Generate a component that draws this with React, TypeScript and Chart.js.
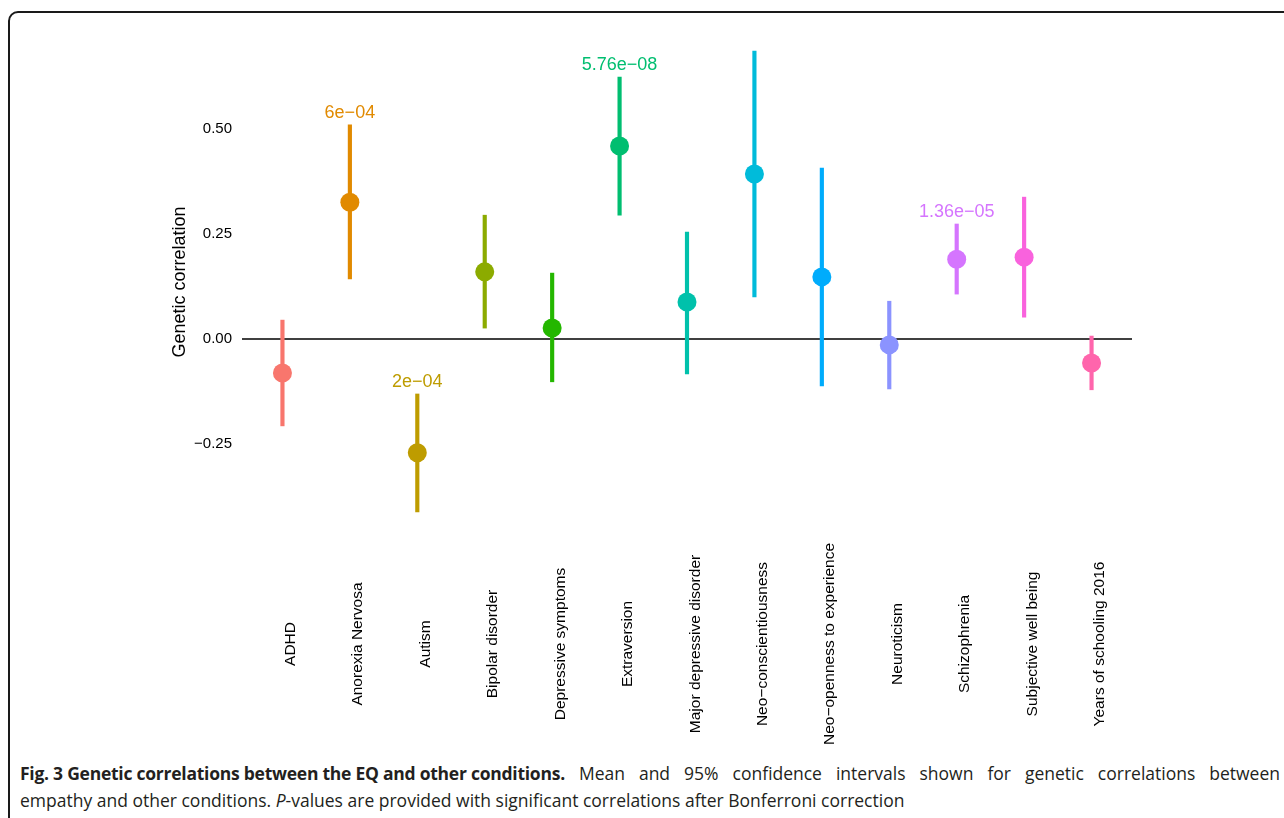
import React, { useEffect, useRef } from "react";
import { Chart, registerables } from "chart.js";

Chart.register(...registerables);

const categories = [
  "ADHD",
  "Anorexia Nervosa",
  "Autism",
  "Bipolar disorder",
  "Depressive symptoms",
  "Extraversion",
  "Major depressive disorder",
  "Neo\u2212conscientiousness",
  "Neo\u2212openness to experience",
  "Neuroticism",
  "Schizophrenia",
  "Subjective well being",
  "Years of schooling 2016",
];
const means = [-0.081, 0.326, -0.271, 0.16, 0.026, 0.46, 0.088, 0.393, 0.148, -0.014, 0.19, 0.195, -0.057];
const lowers = [-0.207, 0.143, -0.412, 0.026, -0.102, 0.295, -0.083, 0.1, -0.112, -0.119, 0.107, 0.052, -0.121];
const uppers = [0.045, 0.51, -0.131, 0.295, 0.157, 0.624, 0.255, 0.686, 0.407, 0.09, 0.274, 0.338, 0.007];
const pLabels = ["", "6e\u221204", "2e\u221204", "", "", "5.76e\u221208", "", "", "", "", "1.36e\u221205", "", ""];
const colors = [
  "#F8766D", "#E18A00", "#BE9C00", "#8CAB00", "#24B700", "#00BE70", "#00C1AB",
  "#00BBDA", "#00ACFC", "#8B93FF", "#D575FE", "#F962DD", "#FF65AC",
];
const yTicks = [-0.25, 0, 0.25, 0.5];
const yTitle = "Genetic correlation";

const FONT = "'Liberation Sans', Arial, Helvetica, sans-serif";

const decorPlugin = {
  id: "decor",
  beforeDatasetsDraw(chart: any) {
    const { ctx, chartArea, scales } = chart;
    const y0 = scales.y.getPixelForValue(0);
    ctx.save();
    ctx.strokeStyle = "#000";
    ctx.lineWidth = 1.5;
    ctx.beginPath();
    ctx.moveTo(chartArea.left, y0);
    ctx.lineTo(chartArea.right, y0);
    ctx.stroke();
    ctx.restore();
  },
  afterDatasetsDraw(chart: any) {
    const { ctx, scales } = chart;
    const xs = scales.x;
    const ys = scales.y;
    ctx.save();
    // p-value labels
    ctx.font = `18px ${FONT}`;
    ctx.textAlign = "center";
    ctx.textBaseline = "alphabetic";
    pLabels.forEach((t, i) => {
      if (!t) return;
      ctx.fillStyle = colors[i];
      ctx.fillText(t, xs.getPixelForValue(i), ys.getPixelForValue(uppers[i]) - 7);
    });
    // category labels, rotated and centered
    ctx.fillStyle = "#000";
    ctx.font = `15.5px ${FONT}`;
    ctx.textAlign = "center";
    ctx.textBaseline = "alphabetic";
    categories.forEach((c, i) => {
      const x = xs.getPixelForValue(i);
      ctx.save();
      ctx.translate(x + 12.5, 644);
      ctx.rotate(-Math.PI / 2);
      ctx.fillText(c, 0, 0);
      ctx.restore();
    });
    // y axis title
    ctx.font = `18px ${FONT}`;
    ctx.textAlign = "center";
    ctx.textBaseline = "middle";
    ctx.save();
    ctx.translate(180, 282);
    ctx.rotate(-Math.PI / 2);
    ctx.fillText(yTitle, 0, 0);
    ctx.restore();
    ctx.restore();
  },
};

export default function App() {
  const ref = useRef<HTMLCanvasElement | null>(null);
  useEffect(() => {
    document.body.style.margin = "0";
    const chart = new Chart(ref.current as HTMLCanvasElement, {
      type: "bar",
      data: {
        datasets: [
          {
            type: "line",
            data: means.map((v, i) => ({ x: i, y: v })),
            showLine: false,
            pointRadius: 9.5,
            pointHoverRadius: 9.5,
            pointBorderWidth: 0,
            pointBackgroundColor: colors,
            pointBorderColor: colors,
            order: 1,
          } as any,
          {
            type: "bar",
            data: lowers.map((lo, i) => ({ x: i, y: [lo, uppers[i]] })),
            backgroundColor: colors,
            borderWidth: 0,
            borderSkipped: false,
            barThickness: 3.5,
            order: 2,
          } as any,
        ],
      },
      options: {
        animation: false,
        responsive: true,
        maintainAspectRatio: false,
        layout: { padding: { left: 0, right: 152, top: 28, bottom: 225 } },
        plugins: { legend: { display: false }, tooltip: { enabled: false } },
        scales: {
          x: {
            type: "linear",
            min: -0.6,
            max: 12.6,
            offset: false,
            grid: { display: false, offset: false },
            border: { display: false },
            ticks: { display: false },
            afterFit: (s: any) => {
              s.height = 0;
            },
          },
          y: {
            type: "linear",
            min: -0.467,
            max: 0.741,
            grid: { display: false, drawTicks: false },
            border: { display: false },
            afterBuildTicks: (s: any) => {
              s.ticks = yTicks.map((v) => ({ value: v }));
            },
            afterFit: (s: any) => {
              s.width = 242;
            },
            ticks: {
              padding: 10,
              color: "#000",
              font: { family: FONT, size: 15 },
              callback: (v: any) => {
                const n = Number(v);
                return n < 0 ? "\u2212" + Math.abs(n).toFixed(2) : n.toFixed(2);
              },
            },
          },
        },
      } as any,
      plugins: [decorPlugin],
    });
    return () => chart.destroy();
  }, []);

  const captionStyle: React.CSSProperties = {
    fontFamily: "'Open Sans', sans-serif",
    fontSize: 17.5,
    lineHeight: "27px",
    color: "#231f20",
    whiteSpace: "nowrap",
    width: 1260,
  };

  return (
    <div style={{ position: "fixed", left: 0, top: 0, width: 1284, height: 818, overflow: "hidden", background: "#fff" }}>
      <div
        style={{
          position: "absolute",
          left: 8,
          top: 11,
          width: 1400,
          height: 900,
          border: "2px solid #1a1a1a",
          borderRadius: 10,
          boxSizing: "border-box",
        }}
      />
      <div style={{ position: "absolute", left: 0, top: 0, width: 1284, height: 760 }}>
        <canvas ref={ref} />
      </div>
      <div style={{ position: "absolute", left: 20, top: 760 }}>
        <div style={{ ...captionStyle, textAlign: "justify", textAlignLast: "justify" }}>
          <b style={{ display: "inline-block", letterSpacing: "-0.25px" }}>
            Fig. 3 Genetic correlations between the EQ and other conditions.
          </b>{" "}
          Mean and 95% confidence intervals shown for genetic correlations between
        </div>
        <div style={captionStyle}>
          empathy and other conditions. <i>P</i>-values are provided with significant correlations after Bonferroni correction
        </div>
      </div>
    </div>
  );
}
